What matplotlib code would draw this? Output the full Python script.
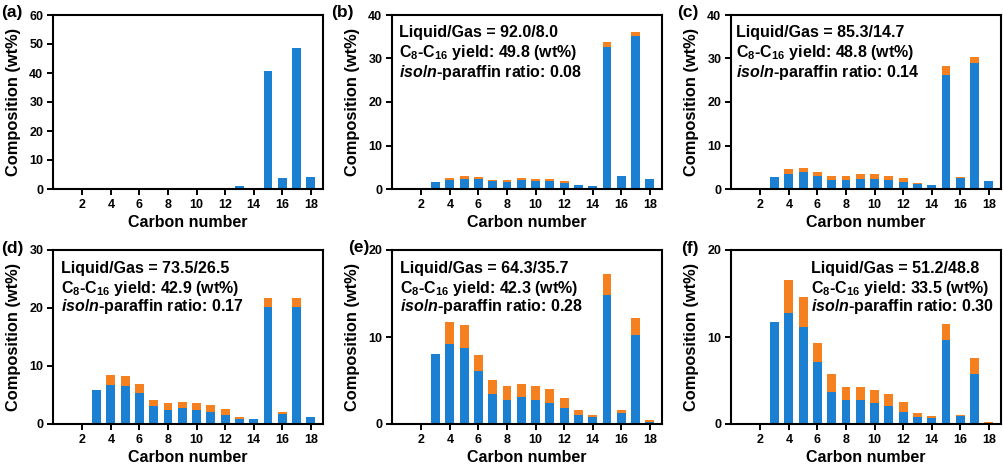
import matplotlib
matplotlib.use("Agg")
import matplotlib.pyplot as plt
import numpy as np

plt.rcParams['font.family'] = ['Liberation Sans', 'DejaVu Sans']
plt.rcParams['font.weight'] = 'bold'
plt.rcParams['mathtext.fontset'] = 'custom'
plt.rcParams['mathtext.rm'] = 'Liberation Sans:bold'
plt.rcParams['mathtext.bf'] = 'Liberation Sans:bold'
plt.rcParams['mathtext.it'] = 'Liberation Sans:bold:italic'
plt.rcParams['mathtext.default'] = 'bf'

carbon = list(range(1, 19))

# n-paraffin (blue) and iso-paraffin (orange) composition, wt%, C1..C18
n_a = [0, 0, 0, 0, 0, 0, 0, 0, 0, 0, 0, 0, 0.9, 0, 40.7, 3.8, 48.5, 4.3]
i_a = [0] * 18

n_b = [0, 0, 1.5, 2.0, 2.3, 2.3, 1.8, 1.7, 2.0, 1.9, 1.8, 1.4, 0.9, 0.65, 32.6, 3.0, 35.2, 2.4]
i_b = [0, 0, 0, 0.5, 0.6, 0.45, 0.3, 0.4, 0.5, 0.5, 0.5, 0.4, 0.1, 0.05, 1.1, 0.05, 0.8, 0.0]

n_c = [0, 0, 2.85, 3.5, 3.9, 3.1, 2.1, 2.0, 2.3, 2.3, 2.0, 1.5, 1.1, 0.85, 26.3, 2.6, 28.9, 1.85]
i_c = [0, 0, 0, 1.05, 1.0, 0.7, 0.8, 0.9, 1.2, 1.1, 1.1, 1.0, 0.2, 0.05, 2.0, 0.15, 1.4, 0.05]

n_d = [0, 0, 5.8, 6.65, 6.5, 5.3, 3.15, 2.45, 2.7, 2.45, 2.1, 1.55, 0.85, 0.8, 20.1, 1.8, 20.1, 1.15]
i_d = [0, 0, 0, 1.8, 1.7, 1.6, 1.05, 1.15, 1.1, 1.15, 1.1, 1.05, 0.4, 0.1, 1.7, 0.25, 1.6, 0.05]

n_e = [0, 0.05, 8.07, 9.2, 8.7, 6.1, 3.5, 2.8, 3.15, 2.8, 2.4, 1.8, 1.0, 0.8, 14.8, 1.26, 10.2, 0.2]
i_e = [0, 0, 0, 2.54, 2.7, 1.8, 1.6, 1.55, 1.45, 1.55, 1.65, 1.2, 0.6, 0.27, 2.4, 0.34, 2.0, 0.26]

n_f = [0, 0.15, 11.7, 12.8, 11.1, 7.07, 3.67, 2.75, 2.8, 2.37, 2.03, 1.41, 0.76, 0.65, 9.6, 0.88, 5.8, 0.05]
i_f = [0, 0, 0, 3.76, 3.47, 2.26, 2.03, 1.49, 1.44, 1.49, 1.41, 1.08, 0.5, 0.23, 1.87, 0.15, 1.77, 0.14]

labels = ['(a)', '(b)', '(c)', '(d)', '(e)', '(f)']
n_all = [n_a, n_b, n_c, n_d, n_e, n_f]
i_all = [i_a, i_b, i_c, i_d, i_e, i_f]
ymax = [60, 40, 40, 30, 20, 20]
ratios = [None, '92.0/8.0', '85.3/14.7', '73.5/26.5', '64.3/35.7', '51.2/48.8']
yields = [None, '49.8', '48.8', '42.9', '42.3', '33.5']
isoratio = [None, '0.08', '0.14', '0.17', '0.28', '0.30']

BLUE = '#1c80d2'
ORANGE = '#f4801f'

W, H = 1004, 466
fig = plt.figure(figsize=(W / 100, H / 100), dpi=100)

lefts = [53, 392, 731]
tops = [15, 250]
aw, ah = 270, 174
text_x = [None, 7, 5, 8, 8, 80]
label_pos = [(1, 13), (331, 13), (677, 13), (1, 249), (348, 247), (681, 248)]

for k in range(6):
    r, c = divmod(k, 3)
    l = lefts[c]
    t = tops[r]
    ax = fig.add_axes([l / W, 1 - (t + ah) / H, aw / W, ah / H])
    x = np.array(carbon)
    ax.bar(x, n_all[k], width=0.62, color=BLUE, zorder=2)
    ax.bar(x, i_all[k], width=0.62, bottom=n_all[k], color=ORANGE, zorder=2)
    ax.set_xlim(-0.05, 18.85)
    ax.set_ylim(0, ymax[k])
    ax.set_xticks(range(2, 19, 2))
    ax.set_yticks(range(0, ymax[k] + 1, 10))
    for s in ax.spines.values():
        s.set_linewidth(1.5)
    ax.tick_params(direction='out', length=4, width=1.4, labelsize=9, pad=3)
    for lab in ax.get_xticklabels() + ax.get_yticklabels():
        lab.set_fontweight('bold')
    ax.set_xlabel('Carbon number', fontsize=11.5, fontweight='bold', labelpad=3)
    ax.set_ylabel('Composition (wt%)', fontsize=11.8, fontweight='bold', labelpad=6)
    px, py = label_pos[k]
    fig.text(px / W, 1 - py / H, labels[k], fontsize=12.5,
             fontweight='bold', ha='left', va='center')
    if ratios[k] is not None:
        tx = text_x[k] / aw
        lines = ['Liquid/Gas = ' + ratios[k],
                 'C$_{8}$-C$_{16}$ yield: ' + yields[k] + ' (wt%)',
                 '$\\it{iso}$/$\\it{n}$-paraffin ratio: ' + isoratio[k]]
        ys = [18, 38, 57]
        for ln, yy in zip(lines, ys):
            ax.text(tx, 1 - yy / ah, ln, transform=ax.transAxes, fontsize=11.5,
                    fontweight='bold', ha='left', va='center')

fig.savefig('out.png', dpi=100)
